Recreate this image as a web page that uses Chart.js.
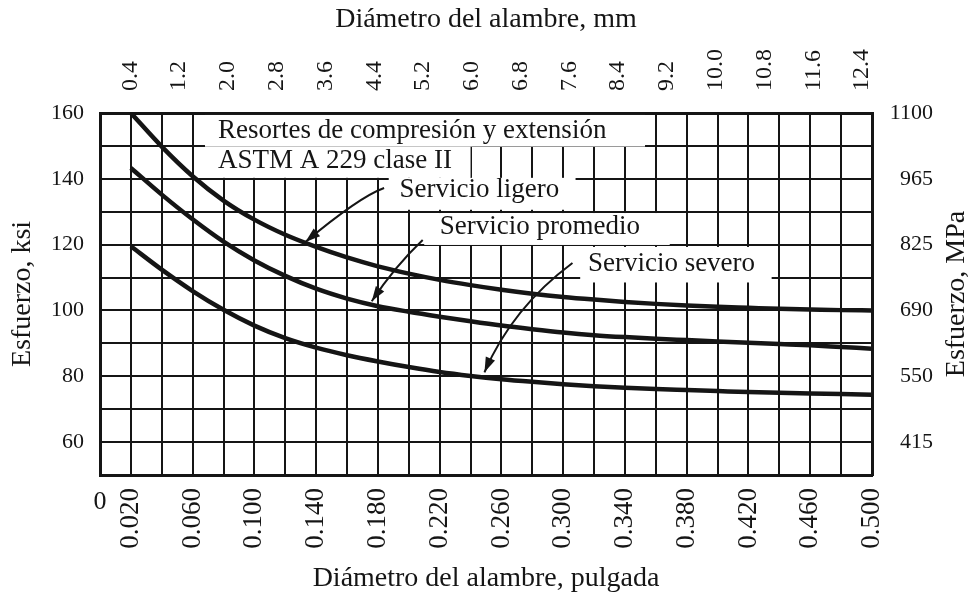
<!DOCTYPE html>
<html lang="es">
<head>
<meta charset="utf-8">
<title>Resortes de compresión y extensión - ASTM A 229 clase II</title>
<script src="https://cdn.jsdelivr.net/npm/chart.js@4.4.1/dist/chart.umd.min.js"></script>
<style>
  html, body { margin: 0; padding: 0; background: #fff; }
  #wrap { width: 975px; height: 597px; }
</style>
</head>
<body>
<div id="wrap"><canvas id="stressChart" width="975" height="597"></canvas></div>
<script>
// Wire diameter (in) where the curves were read
const diameters = [0.02, 0.04, 0.06, 0.08, 0.10, 0.12, 0.14, 0.16, 0.18, 0.20, 0.22, 0.24, 0.26,
                   0.28, 0.30, 0.32, 0.34, 0.36, 0.38, 0.40, 0.42, 0.44, 0.46, 0.48, 0.50];

// Design stress, ksi
const lightService   = [160, 149.8, 140.8, 133.4, 127.6, 123.0, 119.3, 116.1, 113.4, 111.2, 109.3, 107.7, 106.3,
                        105.1, 104.1, 103.3, 102.6, 102.0, 101.5, 101.1, 100.8, 100.5, 100.3, 100.1, 100];
const averageService = [143.3, 135.2, 127.7, 120.9, 115.2, 110.5, 106.6, 103.6, 101.3, 99.6, 98.1, 96.7, 95.4,
                        94.3, 93.3, 92.5, 91.9, 91.4, 91.0, 90.6, 90.2, 89.8, 89.4, 88.9, 88.4];
const severeService  = [119.5, 112.4, 105.9, 100.2, 95.4, 91.6, 88.7, 86.4, 84.5, 82.8, 81.3, 80.1, 79.1,
                        78.3, 77.6, 77.0, 76.5, 76.1, 75.8, 75.5, 75.2, 75.0, 74.8, 74.6, 74.4];

// Axis labels
const inchTicks = [0.02, 0.06, 0.10, 0.14, 0.18, 0.22, 0.26, 0.30, 0.34, 0.38, 0.42, 0.46, 0.50];
const inchTickLabels = ['0.020', '0.060', '0.100', '0.140', '0.180', '0.220', '0.260', '0.300',
                        '0.340', '0.380', '0.420', '0.460', '0.500'];
const mmTicks = [0.4, 1.2, 2.0, 2.8, 3.6, 4.4, 5.2, 6.0, 6.8, 7.6, 8.4, 9.2, 10.0, 10.8, 11.6, 12.4];
const mmTickLabels = ['0.4', '1.2', '2.0', '2.8', '3.6', '4.4', '5.2', '6.0', '6.8', '7.6', '8.4',
                      '9.2', '10.0', '10.8', '11.6', '12.4'];
const ksiTicks = [60, 80, 100, 120, 140, 160];
const mpaTickLabels = ['415', '550', '690', '825', '965', '1100'];

const serif = '"Liberation Serif", "DejaVu Serif", serif';
const ink = '#151515';

function pairs(values) {
    return diameters.map((d, i) => ({ x: d, y: values[i] }));
}

// Arrow from p0 to p2 bent through control point c (all in data units)
function drawArrow(ctx, x, y, p0, c, p2) {
    const a = [x.getPixelForValue(p0[0]), y.getPixelForValue(p0[1])];
    const b = [x.getPixelForValue(c[0]), y.getPixelForValue(c[1])];
    const t = [x.getPixelForValue(p2[0]), y.getPixelForValue(p2[1])];
    ctx.beginPath();
    ctx.moveTo(a[0], a[1]);
    ctx.quadraticCurveTo(b[0], b[1], t[0], t[1]);
    ctx.stroke();
    const ang = Math.atan2(t[1] - b[1], t[0] - b[0]);
    const len = 15, half = 5;
    ctx.beginPath();
    ctx.moveTo(t[0], t[1]);
    ctx.lineTo(t[0] - len * Math.cos(ang) + half * Math.sin(ang), t[1] - len * Math.sin(ang) - half * Math.cos(ang));
    ctx.lineTo(t[0] - len * Math.cos(ang) - half * Math.sin(ang), t[1] - len * Math.sin(ang) + half * Math.cos(ang));
    ctx.closePath();
    ctx.fill();
}

// Callouts: white panels over the grid, their text, and leader arrows
const callouts = {
    id: 'callouts',
    beforeDatasetsDraw(chart) {
        const { ctx, scales: { x, y } } = chart;
        const panel = (x0, y0, x1, y1) => {
            const px0 = x.getPixelForValue(x0), py0 = y.getPixelForValue(y0);
            ctx.fillRect(px0, py0, x.getPixelForValue(x1) - px0, y.getPixelForValue(y1) - py0);
        };
        ctx.save();
        ctx.fillStyle = '#fff';
        panel(0.068, 159.4, 0.353, 149.8);
        panel(0.068, 149.8, 0.240, 140.3);
        panel(0.187, 140.3, 0.308, 130.6);
        panel(0.210, 129.6, 0.369, 119.9);
        panel(0.311, 119.3, 0.435, 108.5);
        ctx.restore();
    },
    afterDatasetsDraw(chart) {
        const { ctx, scales: { x, y } } = chart;
        ctx.save();
        ctx.fillStyle = ink;
        ctx.strokeStyle = ink;
        ctx.lineWidth = 2;
        ctx.font = '27px ' + serif;
        ctx.textAlign = 'left';
        ctx.textBaseline = 'middle';
        const label = (text, vx, vy) => ctx.fillText(text, x.getPixelForValue(vx), y.getPixelForValue(vy));
        label('Resortes de compresión y extensión', 0.0764, 154.6);
        label('ASTM A 229 clase II', 0.0764, 145.4);
        label('Servicio ligero', 0.194, 136.6);
        label('Servicio promedio', 0.220, 125.5);
        label('Servicio severo', 0.316, 114.2);

        drawArrow(ctx, x, y, [0.184, 137.2], [0.168, 134.5], [0.133, 120.8]);
        drawArrow(ctx, x, y, [0.209, 121.4], [0.191, 113.4], [0.176, 102.8]);
        drawArrow(ctx, x, y, [0.306, 114.4], [0.267, 100.8], [0.249, 81.2]);
        ctx.restore();
    },
    afterDraw(chart) {
        const { ctx, scales: { x, y } } = chart;
        ctx.save();
        ctx.fillStyle = ink;
        // the origin label stays upright
        ctx.font = '26px ' + serif;
        ctx.textAlign = 'center';
        ctx.textBaseline = 'middle';
        ctx.fillText('0', x.getPixelForValue(0), 502);
        // right-hand title reads bottom to top like the left one
        ctx.font = '28px ' + serif;
        ctx.translate(957, (y.top + y.bottom) / 2);
        ctx.rotate(-Math.PI / 2);
        ctx.fillText('Esfuerzo, MPa', 0, 0);
        ctx.restore();
    }
};

const tickFont = { family: serif, size: 22 };
const titleFont = { family: serif, size: 28 };

const ctx = document.getElementById('stressChart').getContext('2d');
new Chart(ctx, {
    type: 'line',
    data: {
        datasets: [
            { label: 'Servicio ligero', data: pairs(lightService), borderColor: ink },
            { label: 'Servicio promedio', data: pairs(averageService), borderColor: ink },
            { label: 'Servicio severo', data: pairs(severeService), borderColor: ink }
        ]
    },
    options: {
        responsive: false,
        animation: false,
        layout: { padding: { left: 0, top: 0, bottom: 0, right: 42 } },
        plugins: {
            legend: { display: false },
            tooltip: { enabled: false }
        },
        elements: {
            point: { radius: 0 },
            line: { borderWidth: 4.5, cubicInterpolationMode: 'monotone', fill: false }
        },
        scales: {
            x: {
                type: 'linear',
                position: 'bottom',
                min: 0,
                max: 0.5,
                ticks: {
                    stepSize: 0.02,
                    autoSkip: false,
                    minRotation: 90,
                    maxRotation: 90,
                    padding: 13,
                    color: ink,
                    font: { family: serif, size: 27 },
                    callback: v => {
                        const i = inchTicks.findIndex(t => Math.abs(t - v) < 1e-6);
                        return i < 0 ? '' : inchTickLabels[i];
                    }
                },
                grid: { color: ink, lineWidth: 2, drawTicks: false },
                border: { color: ink, width: 3 },
                title: {
                    display: true,
                    text: 'Diámetro del alambre, pulgada',
                    color: ink,
                    font: titleFont,
                    padding: { top: 0, bottom: 2 }
                },
                afterFit: s => { s.height = 122; }
            },
            x2: {
                type: 'linear',
                position: 'top',
                min: -0.092,
                max: 12.564,
                afterBuildTicks: s => { s.ticks = mmTicks.map(v => ({ value: v })); },
                ticks: {
                    autoSkip: false,
                    minRotation: 90,
                    maxRotation: 90,
                    padding: 22,
                    labelOffset: 29,
                    color: ink,
                    font: { family: serif, size: 24 },
                    callback: (v, i) => mmTickLabels[i]
                },
                grid: { display: false, drawTicks: false },
                border: { color: ink, width: 3 },
                title: {
                    display: true,
                    text: 'Diámetro del alambre, mm',
                    color: ink,
                    font: titleFont,
                    padding: { top: 3, bottom: 0 }
                },
                afterFit: s => { s.height = 113; }
            },
            y: {
                type: 'linear',
                position: 'left',
                min: 50,
                max: 160,
                ticks: {
                    stepSize: 10,
                    padding: 16,
                    color: ink,
                    font: tickFont,
                    callback: v => ksiTicks.includes(v) ? String(v) : ''
                },
                grid: { color: ink, lineWidth: 2, drawTicks: false },
                border: { color: ink, width: 3 },
                title: {
                    display: true,
                    text: 'Esfuerzo, ksi',
                    color: ink,
                    font: titleFont,
                    padding: { top: 6, bottom: 0 }
                },
                afterFit: s => { s.width = 100; }
            },
            y2: {
                type: 'linear',
                position: 'right',
                min: 50,
                max: 160,
                ticks: {
                    stepSize: 10,
                    padding: 16,
                    crossAlign: 'far',
                    color: ink,
                    font: tickFont,
                    callback: v => {
                        const i = ksiTicks.indexOf(v);
                        return i < 0 ? '' : mpaTickLabels[i];
                    }
                },
                grid: { display: false, drawTicks: false },
                border: { color: ink, width: 3 },
                afterFit: s => { s.width = 61; }
            }
        }
    },
    plugins: [callouts]
});
</script>
</body>
</html>
